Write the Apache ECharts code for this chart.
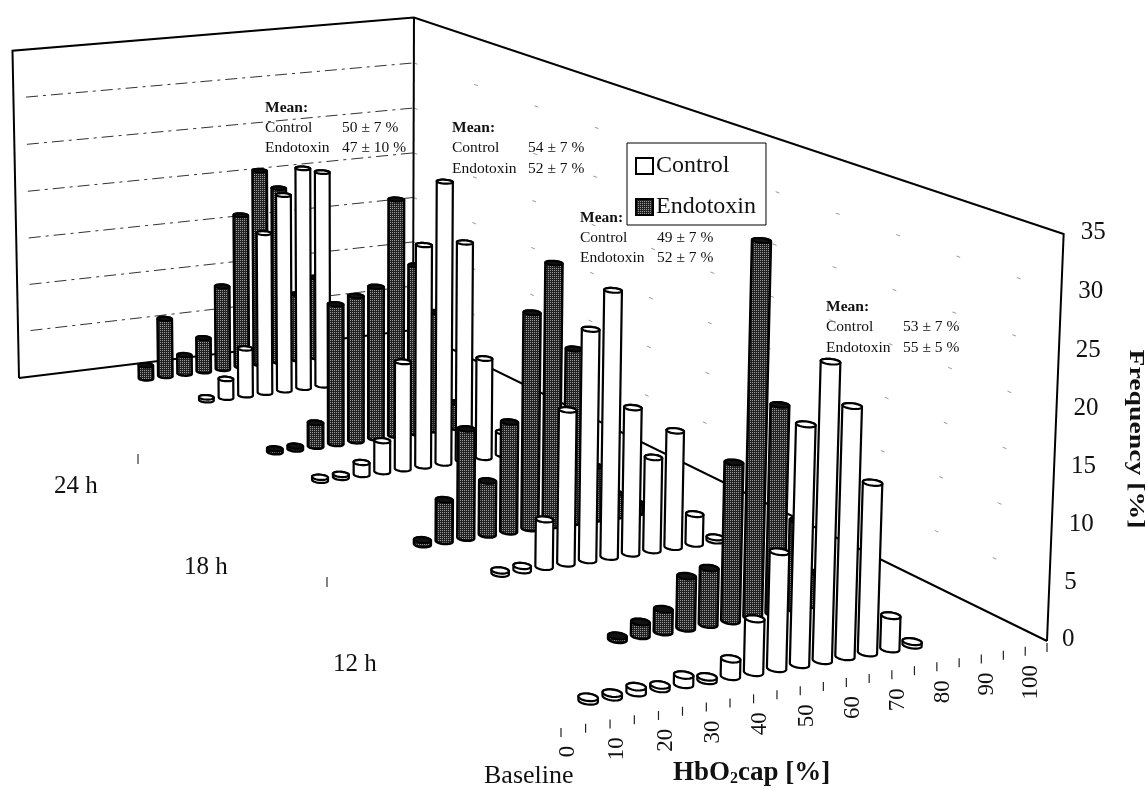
<!DOCTYPE html>
<html><head><meta charset="utf-8">
<style>html,body{margin:0;padding:0;background:#fff}#c{width:1146px;height:791px}</style>
<script src="https://cdn.jsdelivr.net/npm/echarts@6/dist/echarts.min.js"></script>
</head><body><div id="c"></div>
<script>
const _ = null;
const categories = ['0','5','10','15','20','25','30','35','40','45','50','55','60','65','70','75','80','85','90','95','100'];
const frequencyTicks = [0,5,10,15,20,25,30,35];
const rowLabels = ['Baseline','12 h','18 h','24 h'];
const baselineControl   = [_,_,0.3,0.3,0.5,0.3,0.8,0.3,1.5,4.6,10,20.5,25.5,21.5,14.7,2.9,0.3,_,_,_,_];
const baselineEndotoxin = [_,_,_,_,_,_,0.3,1.2,2,4.6,5,14,33,18.5,8,3,_,_,_,_,_];
const h12Control        = [_,_,_,_,_,_,0.3,0.4,4.4,14.2,21.3,24.6,13.6,8.7,10.9,2.8,0.3,_,_,_,_];
const h12Endotoxin      = [_,_,_,_,_,0.4,3.9,10.3,5.1,10.4,20.4,24.8,16.5,5.1,2.2,1,_,_,_,_,_];
const h18Control        = [_,_,_,_,0.3,0.3,1.2,3.1,10.7,22,28,21.8,10,2.3,_,_,_,_,_,_,_];
const h18Endotoxin      = [_,_,_,_,_,0.3,0.3,2.4,14.2,14.8,15.5,24.1,17.2,12.2,2.6,_,_,_,_,_,_];
const h24Control        = [_,_,_,_,_,0.3,2,5,17,20.8,23.4,22.8,_,_,_,_,_,_,_,_,_];
const h24Endotoxin      = [_,_,_,_,_,1.4,6.2,2,3.6,9,16.5,21.1,19,7.2,8.8,_,_,_,_,_,_];
const meanControl   = ['50 ± 7 %','54 ± 7 %','49 ± 7 %','53 ± 7 %'];
const meanEndotoxin = ['47 ± 10 %','52 ± 7 %','52 ± 7 %','55 ± 5 %'];

// perspective calibration of the box (screen corners of the 3-D frame)
const F0=[561,726],F1=[1047,641],B1=[413,330],B0=[19,378],T0=[13,51],T1=[414,15],T2=[1063,237];
// depth of each row on the floor and its sideways nudge, in category cells
const rowDepth=[0.035,0.138,0.309,0.40,0.591,0.683,0.8575,0.949];
const rowNudge=[-0.35,-0.0,-0.18,-0.2,1.0,0.11,0.89,-0.1];
function solve3(M,r){
  const a=M.map((row,i)=>row.concat(r[i]));
  for(let i=0;i<3;i++){let p=i;for(let k=i+1;k<3;k++)if(Math.abs(a[k][i])>Math.abs(a[p][i]))p=k;
    [a[i],a[p]]=[a[p],a[i]];
    for(let k=0;k<3;k++){if(k===i)continue;const f=a[k][i]/a[i][i];for(let j=i;j<4;j++)a[k][j]-=f*a[i][j];}}
  return [a[0][3]/a[0][0],a[1][3]/a[1][1],a[2][3]/a[2][2]];
}
function makeCamera(){
  const dx1=F1[0]-B1[0],dx2=B0[0]-B1[0],sx=F0[0]-F1[0]+B1[0]-B0[0];
  const dy1=F1[1]-B1[1],dy2=B0[1]-B1[1],sy=F0[1]-F1[1]+B1[1]-B0[1];
  const den=dx1*dy2-dx2*dy1;
  const g=(sx*dy2-dx2*sy)/den,h=(dx1*sy-sx*dy1)/den;
  const a=F1[0]-F0[0]+g*F1[0],b=B0[0]-F0[0]+h*B0[0],c=F0[0];
  const d=F1[1]-F0[1]+g*F1[1],e=B0[1]-F0[1]+h*B0[1],f=F0[1];
  const eqs=[];
  [[T0,0,1],[T1,1,1],[T2,1,0]].forEach(([T,u,v])=>{
    const W=g*u+h*v+1;
    eqs.push([1,0,-T[0],T[0]*W-(a*u+b*v+c)]);
    eqs.push([0,1,-T[1],T[1]*W-(d*u+e*v+f)]);
  });
  const N=[[0,0,0],[0,0,0],[0,0,0]],R=[0,0,0];
  eqs.forEach(q=>{for(let i=0;i<3;i++){R[i]+=q[i]*q[3];for(let j=0;j<3;j++)N[i][j]+=q[i]*q[j];}});
  const [A,B,C]=solve3(N,R);
  return (u,v,z)=>{
    const W=g*u+h*v+1+C*z;
    return [(a*u+b*v+c+A*z)/W,(d*u+e*v+f+B*z)/W];
  };
}
const project=makeCamera();

function dither(){
  const cv=document.createElement('canvas');cv.width=4;cv.height=4;
  const x=cv.getContext('2d');x.fillStyle='#222';x.fillRect(0,0,4,4);
  x.fillStyle='#999';x.fillRect(0,0,1,1);x.fillRect(2,2,1,1);x.fillRect(2,0,1,1);x.fillRect(0,2,1,1);
  return {image:cv,repeat:'repeat'};
}
const darkFill=dither();

function hull(pts){
  const p=pts.slice().sort((m,n)=>m[0]-n[0]||m[1]-n[1]);
  const cr=(o,m,n)=>(m[0]-o[0])*(n[1]-o[1])-(m[1]-o[1])*(n[0]-o[0]);
  const lo=[],up=[];
  for(const q of p){while(lo.length>1&&cr(lo[lo.length-2],lo[lo.length-1],q)<=0)lo.pop();lo.push(q);}
  for(const q of p.slice().reverse()){while(up.length>1&&cr(up[up.length-2],up[up.length-1],q)<=0)up.pop();up.push(q);}
  return lo.slice(0,-1).concat(up.slice(0,-1));
}
function norm(params,api,cat,val){
  const s=params.coordSys,c=api.coord([cat,val]);
  return {u:(c[0]-s.x)/s.width,z:(s.y+s.height-c[1])/s.height};
}
const RU=0.0155,RV=0.008;
function cylinder(rowIndex,dark){
  const v0=rowDepth[rowIndex],nudge=rowNudge[rowIndex]/categories.length;
  return function(params,api){
    const n=norm(params,api,api.value(0),api.value(1));
    const uc=n.u+nudge;
    const ring=z=>{const o=[];for(let k=0;k<28;k++){const t=k/28*2*Math.PI;
      o.push(project(uc+RU*Math.cos(t),v0+RV*Math.sin(t),z));}return o;};
    const bottom=ring(0),top=ring(n.z);
    return {type:'group',children:[
      {type:'polygon',shape:{points:hull(bottom.concat(top))},
       style:{fill:dark?darkFill:'#fff',stroke:'#000',lineWidth:dark?2.5:2.2}},
      {type:'polygon',shape:{points:top},
       style:{fill:dark?'#111':'#fff',stroke:'#000',lineWidth:dark?2:2.2}}
    ]};
  };
}
function toPairs(arr){const o=[];arr.forEach((v,i)=>{if(v!==null)o.push([i,v]);});return o;}

const rows=[
 {name:'Endotoxin',row:7,vals:h24Endotoxin},{name:'Control',row:6,vals:h24Control},
 {name:'Endotoxin',row:5,vals:h18Endotoxin},{name:'Control',row:4,vals:h18Control},
 {name:'Endotoxin',row:3,vals:h12Endotoxin},{name:'Control',row:2,vals:h12Control},
 {name:'Endotoxin',row:1,vals:baselineEndotoxin},{name:'Control',row:0,vals:baselineControl}
];
const barSeries=rows.map(r=>{
  const dark=r.name==='Endotoxin';
  return {type:'custom',name:r.name,coordinateSystem:'cartesian2d',clip:false,silent:true,z:5,
    data:toPairs(r.vals),encode:{x:0,y:1},renderItem:cylinder(r.row,dark),
    itemStyle:dark?{color:darkFill,borderColor:'#000',borderWidth:1}:{color:'#fff',borderColor:'#000',borderWidth:2}};
});

const frameSeries={type:'custom',name:'frame',coordinateSystem:'cartesian2d',clip:false,silent:true,z:2,
  data:[[0,35]],encode:{x:0,y:1},
  renderItem(params,api){
    const z=norm(params,api,0,api.value(1)).z,ln={stroke:'#000',lineWidth:2,fill:null};
    const pl=p=>({type:'polyline',shape:{points:p},style:ln});
    return {type:'group',children:[
      pl([project(0,1,0),project(1,1,0),project(1,0,0)]),
      pl([project(0,1,0),project(0,1,z),project(1,1,z),project(1,0,z),project(1,0,0)]),
      pl([project(1,1,0),project(1,1,z)])
    ]};
  }};
const gridSeries={type:'custom',name:'grid',coordinateSystem:'cartesian2d',clip:false,silent:true,z:1,
  data:frequencyTicks.filter(t=>t>0&&t<35).map(t=>[0,t]),encode:{x:0,y:1},
  renderItem(params,api){
    const z=norm(params,api,0,api.value(1)).z;
    return {type:'group',children:[
      {type:'polyline',shape:{points:[project(0.03,1,z),project(1,1,z)]},
       style:{stroke:'#333',lineWidth:1,fill:null,lineDash:[12,5,3,5]}},
      {type:'polyline',shape:{points:[project(1,1,z),project(1,0,z)]},
       style:{stroke:'#999',lineWidth:1,fill:null,lineDash:[4,60]}}
    ]};
  }};
const xTickSeries={type:'custom',name:'xticks',coordinateSystem:'cartesian2d',clip:false,silent:true,z:3,
  data:categories.map((c,i)=>[i,0]),encode:{x:0,y:1},
  renderItem(params,api){
    const i=api.value(0),kids=[];
    const w=norm(params,api,i,0),p=project(w.u,0,0);
    const ed=project(w.u-0.5/categories.length,0,0);
    kids.push({type:'line',shape:{x1:ed[0],y1:ed[1]+2,x2:ed[0],y2:ed[1]+11},style:{stroke:'#222',lineWidth:1.2}});
    if(i===categories.length-1){const e2=project(1,0,0);
      kids.push({type:'line',shape:{x1:e2[0],y1:e2[1]+2,x2:e2[0],y2:e2[1]+11},style:{stroke:'#222',lineWidth:1.2}});}
    if(i%2===0)kids.push({type:'text',x:p[0]-5,y:p[1]+22,rotation:Math.PI/2,
      style:{text:categories[i],align:'right',verticalAlign:'middle',fontFamily:'Liberation Serif',fontSize:23,fill:'#111'}});
    return {type:'group',children:kids};
  }};
const yLabelSeries={type:'custom',name:'ylabels',coordinateSystem:'cartesian2d',clip:false,silent:true,z:3,
  data:frequencyTicks.map(t=>[0,t]),encode:{x:0,y:1},
  renderItem(params,api){
    const t=api.value(1),z=norm(params,api,0,t).z,p=project(1,0,z);
    return {type:'text',x:p[0]+(t<10?15:17),y:p[1]-2,
      style:{text:String(t),align:'left',verticalAlign:'middle',fontFamily:'Liberation Serif',fontSize:25,fill:'#111'}};
  }};

const serif='Liberation Serif';
function meanBlock(x,xv,y0,dy,i){
  const t=(s,xx,yy,w)=>({type:'text',left:xx,top:yy-7.5,style:{text:s,font:(w?'bold ':'')+'15.5px "'+serif+'"',fill:'#111'},z:20});
  return [t('Mean:',x,y0,true),t('Control',x,y0+dy,false),t(meanControl[i],xv,y0+dy,false),
          t('Endotoxin',x,y0+2*dy,false),t(meanEndotoxin[i],xv,y0+2*dy,false)];
}
const bigText=(s,l,t,size)=>({type:'text',left:l,top:t,style:{text:s,font:size+'px "'+serif+'"',fill:'#111'},z:20});
const tick=(x,y)=>({type:'line',shape:{x1:x,y1:y-5,x2:x,y2:y+5},style:{stroke:'#333',lineWidth:1.2},z:3});

const graphic=[].concat(
  meanBlock(265,342,107,20,0),meanBlock(452,528,127,20.5,1),meanBlock(580,657,217,20,2),meanBlock(826,903,306,20.5,3),
  [bigText(rowLabels[3],54,474,25),bigText(rowLabels[2],184,555,25),bigText(rowLabels[1],333,652,25),bigText(rowLabels[0],484,763,26),
   tick(138,459),tick(327,582),
   {type:'text',left:673,top:760,z:20,style:{text:'{b|HbO}{s|2}{b|cap [%]}',rich:{
      b:{font:'bold 27px "'+serif+'"',fill:'#111'},
      s:{font:'bold 16px "'+serif+'"',fill:'#111',padding:[10,0,0,0]}}}},
   {type:'text',x:1135,y:439,rotation:-Math.PI/2,scaleX:1.32,z:20,
    style:{text:'Frequency [%]',align:'center',verticalAlign:'middle',font:'bold 21px "'+serif+'"',fill:'#111'}}]
);

const chart=echarts.init(document.getElementById('c'),null,{renderer:'canvas'});
chart.setOption({
  animation:false,backgroundColor:'#fff',
  grid:{left:0,right:0,top:0,bottom:0},
  xAxis:{type:'category',data:categories,show:false},
  yAxis:{type:'value',min:0,max:35,show:false},
  legend:{data:['Control','Endotoxin'],orient:'vertical',left:627,top:143,width:140,icon:'rect',
    padding:[11,10,6,8],itemGap:17,itemWidth:17,itemHeight:16,backgroundColor:'#fff',
    borderColor:'#000',borderWidth:1,selectedMode:false,z:15,
    textStyle:{fontFamily:serif,fontSize:24,color:'#111',padding:[0,0,38,-2]}},
  graphic:graphic,
  series:[gridSeries,frameSeries,xTickSeries,yLabelSeries].concat(barSeries)
});
</script></body></html>
